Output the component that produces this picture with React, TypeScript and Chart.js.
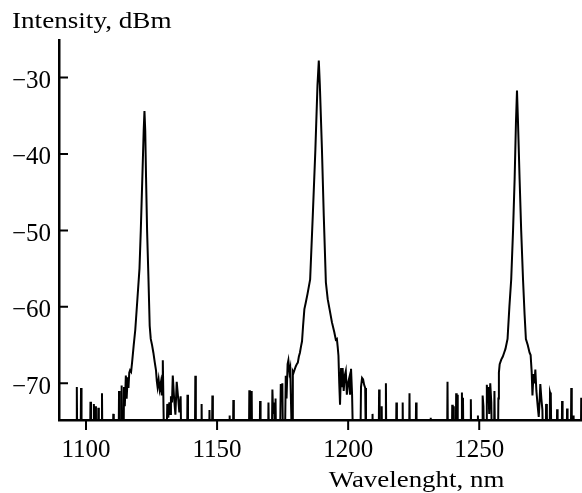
import React, { useEffect, useRef } from "react";
import { Chart, registerables } from "chart.js";

Chart.register(...registerables);

// Values below the visible range (trace drops under the axis)
const F = -80;

const xTickValues = [1100, 1150, 1200, 1250];
const yTickValues = [-70, -60, -50, -40, -30];
const xTitle = "Wavelenght, nm";
const yTitle = "Intensity, dBm";

// [wavelength nm, intensity dBm]
const leftNoise: [number, number][] = [
  [1096.3, F], [1096.5, -70.5], [1096.7, F],
  [1097.9, F], [1098.1, -70.6], [1098.3, F],
  [1101.5, F], [1101.7, -72.4], [1101.9, F],
  [1102.8, F], [1103.0, -72.7], [1103.2, F], [1103.4, F], [1103.6, -73.0], [1103.8, F],
  [1104.5, F], [1104.7, -73.2], [1104.9, F],
  [1105.9, F], [1106.1, -71.3], [1106.3, F],
  [1110.2, F], [1110.4, -74.0], [1110.6, F],
];

const peak1: [number, number][] = [
  [1112.4, F], [1112.6, -71], [1112.8, F], [1113.4, F], [1113.6, -70.3], [1113.8, F],
  [1114.3, F], [1114.5, -70.5], [1114.8, -73], [1115.2, -69], [1115.5, -72], [1115.9, -69.2],
  [1116.2, -70.6], [1116.5, -68.6], [1116.8, -68.3], [1117.2, -68.5], [1117.6, -67.2],
  [1118.2, -65], [1118.8, -63], [1119.6, -59], [1120.4, -55], [1120.9, -50], [1121.5, -43],
  [1122.0, -37], [1122.3, -34.4], [1122.6, -37], [1122.9, -43], [1123.3, -50], [1123.8, -56],
  [1124.3, -62.5], [1124.7, -64.2], [1125.2, -65], [1125.7, -66], [1126.2, -67.2],
  [1126.7, -68.3], [1127.0, -69.7], [1127.3, -70.5], [1127.7, -69.5], [1128.1, -70.8],
  [1128.5, -70], [1128.9, -71.6], [1129.1, -69], [1129.3, -67], [1129.6, -74], [1129.9, F],
];

const midNoise: [number, number][] = [
  [1130.6, F], [1131.0, -72.7], [1131.4, -74.5], [1131.8, -72.5], [1132.1, -74],
  [1132.4, -71.7], [1132.8, -72.5], [1133.1, -69], [1133.6, -71.9], [1134.1, -74.1],
  [1134.6, -69.8], [1135.2, -72.1], [1135.6, -73.8], [1136.1, -71.7], [1136.4, F],
  [1138.5, F], [1138.7, -71.5], [1138.9, F],
  [1141.5, F], [1141.7, -69.0], [1141.9, F],
  [1143.9, F], [1144.1, -72.7], [1144.3, F],
  [1146.9, F], [1147.1, -73.5], [1147.4, F], [1148.0, F], [1148.2, -71.6], [1148.4, F],
  [1154.6, F], [1154.8, -74.2], [1155.0, F],
  [1156.0, F], [1156.2, -72.2], [1156.4, F],
  [1162.1, F], [1162.3, -70.9], [1162.5, F], [1163.0, F], [1163.2, -71.0], [1163.4, F],
  [1166.2, F], [1166.4, -72.3], [1166.6, F],
];

const peak2: [number, number][] = [
  [1169.4, F], [1169.6, -72.5], [1169.9, F], [1170.8, F], [1171.1, -70.8], [1171.4, -74],
  [1171.8, -72.5], [1172.1, F], [1172.3, -72], [1172.6, F], [1173.9, F], [1174.3, -70.1],
  [1174.6, -72], [1174.9, -70], [1175.2, F], [1175.8, F], [1176.2, -69], [1176.5, -72],
  [1176.9, -67.5], [1177.2, -67], [1177.6, -68.5], [1177.9, -68], [1178.3, -74], [1178.6, F],
  [1178.9, -68.4], [1179.2, -68.6], [1179.6, -68.2], [1180.0, -67.8], [1180.4, -67.5],
  [1180.8, -67.3], [1181.2, -66.5], [1181.6, -66], [1182.0, -65.2], [1182.4, -64.5],
  [1182.8, -62.5], [1183.3, -60.3], [1183.8, -59.5], [1184.5, -58.3], [1185.5, -56.4],
  [1186.5, -48.1], [1187.5, -39.4], [1188.3, -31], [1188.8, -27.8], [1189.2, -31],
  [1190.0, -39.4], [1190.7, -48.1], [1191.5, -56.8], [1192.2, -59], [1192.9, -60.3],
  [1193.8, -62], [1194.7, -63.3], [1195.3, -64.3], [1195.7, -64.2], [1196.0, -65.2],
  [1196.3, -66.4], [1196.6, -70], [1196.9, -72.8], [1197.3, -68], [1197.6, -70.5],
  [1197.9, -68], [1198.3, -71], [1198.7, -69], [1199.1, -68.4], [1199.5, -71.5],
  [1199.9, -70], [1200.4, -69.3], [1200.7, -71.5], [1201.1, -68.1], [1201.5, -71.5],
  [1202.0, F], [1204.6, F], [1204.9, -70.5], [1205.3, -69.3], [1205.7, -69.5],
  [1206.1, -70.2], [1206.5, -70.6], [1206.8, F],
];

const rightNoise: [number, number][] = [
  [1209.1, F], [1209.3, -74.0], [1209.5, F],
  [1211.6, F], [1211.8, -70.8], [1212.0, F], [1212.6, F], [1212.8, -73.0], [1213.0, F],
  [1214.2, F], [1214.4, -70.0], [1214.6, F],
  [1218.2, F], [1218.4, -72.5], [1218.6, F],
  [1220.6, F], [1220.8, -72.5], [1221.0, F],
  [1223.2, F], [1223.4, -71.3], [1223.6, F],
  [1225.7, F], [1225.9, -72.5], [1226.1, F],
  [1231.3, F], [1231.5, -74.5], [1231.7, F],
  [1237.7, F], [1237.9, -69.8], [1238.1, F],
  [1239.5, F], [1239.7, -72.8], [1239.9, F], [1240.1, -73.0], [1240.3, F],
  [1241.0, F], [1241.2, -71.3], [1241.4, F], [1241.6, -71.5], [1241.8, F],
  [1243.2, F], [1243.4, -71.2], [1243.6, F], [1243.8, -71.9], [1244.0, F],
  [1246.6, F], [1246.8, -72.1], [1247.0, F],
  [1249.3, F], [1249.5, -74.2], [1249.7, F],
];

const peak3: [number, number][] = [
  [1251.1, F], [1251.3, -71.6], [1251.6, -73], [1251.9, F], [1252.6, F], [1252.9, -70.2],
  [1253.2, -72.5], [1253.5, -70.5], [1253.8, -74], [1254.2, -70], [1254.6, -72.5],
  [1254.9, F], [1255.6, F], [1255.8, -71], [1256.1, F], [1257.1, F], [1257.3, -72],
  [1257.5, -68.6], [1257.8, -67.5], [1258.4, -66.9], [1259.0, -66.5], [1259.5, -66],
  [1260.0, -65.5], [1260.8, -64.2], [1261.5, -60], [1262.2, -56.4], [1262.9, -50],
  [1263.5, -43.3], [1264.0, -36], [1264.4, -31.7], [1264.8, -36], [1265.4, -43.3],
  [1266.0, -50], [1266.7, -56.4], [1267.3, -61], [1267.8, -64.2], [1268.5, -65],
  [1269.2, -66], [1269.6, -66.3], [1270.0, -68.5], [1270.3, -71.6], [1270.7, -68.8],
  [1271.1, -70], [1271.4, -68.2], [1271.8, -71], [1272.3, -73], [1272.7, -74.4],
  [1273.0, -72.5], [1273.3, -70.1], [1273.7, -72], [1274.1, -73.5], [1274.4, F],
];

const tailNoise: [number, number][] = [
  [1275.3, F], [1275.5, -72.7], [1275.8, -74.0], [1276.1, F],
  [1276.8, F], [1277.0, -71.2], [1277.3, -71.6], [1277.6, F],
  [1279.5, F], [1279.7, -73.4], [1279.9, F],
  [1281.4, F], [1281.6, -72.3], [1281.8, F],
  [1283.3, F], [1283.5, -73.3], [1283.7, F],
  [1284.9, F], [1285.1, -70.6], [1285.3, F],
  [1285.8, F], [1286.0, -74.2], [1286.2, F],
  [1288.7, F], [1288.9, -71.9], [1289.1, F],
];

const X_MIN = 1089.7;
const X_MAX = 1289.2;
const Y_MIN = -74.8;
const Y_MAX = -25.1;

const FONT = '"Liberation Serif", "Times New Roman", serif';

const axisDecor = {
  id: "axisDecor",
  afterDraw(chart: any) {
    const { ctx, chartArea, scales } = chart;
    ctx.save();
    ctx.strokeStyle = "#000";
    ctx.lineWidth = 2;
    ctx.beginPath();
    yTickValues.forEach((v) => {
      const y = scales.y.getPixelForValue(v);
      ctx.moveTo(chartArea.left, y);
      ctx.lineTo(chartArea.left + 9, y);
    });
    xTickValues.forEach((v) => {
      const x = scales.x.getPixelForValue(v);
      ctx.moveTo(x, chartArea.bottom);
      ctx.lineTo(x, chartArea.bottom + 10);
    });
    ctx.stroke();

    ctx.fillStyle = "#000";
    ctx.font = `23px ${FONT}`;
    ctx.textBaseline = "alphabetic";
    ctx.textAlign = "left";
    ctx.save();
    ctx.translate(12, 28);
    ctx.scale(1.18, 1);
    ctx.fillText(yTitle, 0, 0);
    ctx.restore();
    ctx.save();
    ctx.textAlign = "center";
    ctx.translate(416.5, 487);
    ctx.scale(1.17, 1);
    ctx.fillText(xTitle, 0, 0);
    ctx.restore();
    ctx.restore();
  },
};

export default function App() {
  const ref = useRef<HTMLCanvasElement | null>(null);
  useEffect(() => {
    if (!ref.current) return;
    const points = [...leftNoise, ...peak1, ...midNoise, ...peak2, ...rightNoise, ...peak3, ...tailNoise]
      .map(([x, y]) => ({ x, y }));
    const chart = new Chart(ref.current, {
      type: "line",
      data: {
        datasets: [
          {
            data: points,
            borderColor: "#000",
            borderWidth: 2,
            pointRadius: 0,
            tension: 0,
            fill: false,
          },
        ],
      },
      options: {
        responsive: false,
        animation: false,
        layout: { padding: { top: 40, left: 0, right: 0, bottom: 0 } },
        plugins: { legend: { display: false }, tooltip: { enabled: false } },
        scales: {
          x: {
            type: "linear",
            min: X_MIN,
            max: X_MAX,
            afterBuildTicks: (s: any) => {
              s.ticks = xTickValues.map((value) => ({ value }));
            },
            afterFit: (s: any) => {
              s.height = 73;
            },
            ticks: {
              autoSkip: false,
              maxRotation: 0,
              padding: 15,
              color: "#000",
              font: { family: FONT, size: 25 },
              callback: (v: any) => String(v),
            },
            grid: { display: false, drawTicks: false },
            border: { display: true, color: "#000", width: 2.5 },
          },
          y: {
            type: "linear",
            min: Y_MIN,
            max: Y_MAX,
            afterBuildTicks: (s: any) => {
              s.ticks = yTickValues.map((value) => ({ value }));
            },
            afterFit: (s: any) => {
              s.width = 59;
            },
            ticks: {
              padding: 8,
              labelOffset: 4,
              color: "#000",
              font: { family: FONT, size: 25 },
              callback: (v: any) => (Number(v) < 0 ? "\u2212" + Math.abs(Number(v)) : String(v)),
            },
            grid: { display: false, drawTicks: false },
            border: { display: true, color: "#000", width: 2.5 },
          },
        },
      },
      plugins: [axisDecor],
    });
    return () => chart.destroy();
  }, []);

  return (
    <div style={{ position: "fixed", left: 0, top: 0, width: 582, height: 493, background: "#fff" }}>
      <canvas ref={ref} width={582} height={493} />
    </div>
  );
}
